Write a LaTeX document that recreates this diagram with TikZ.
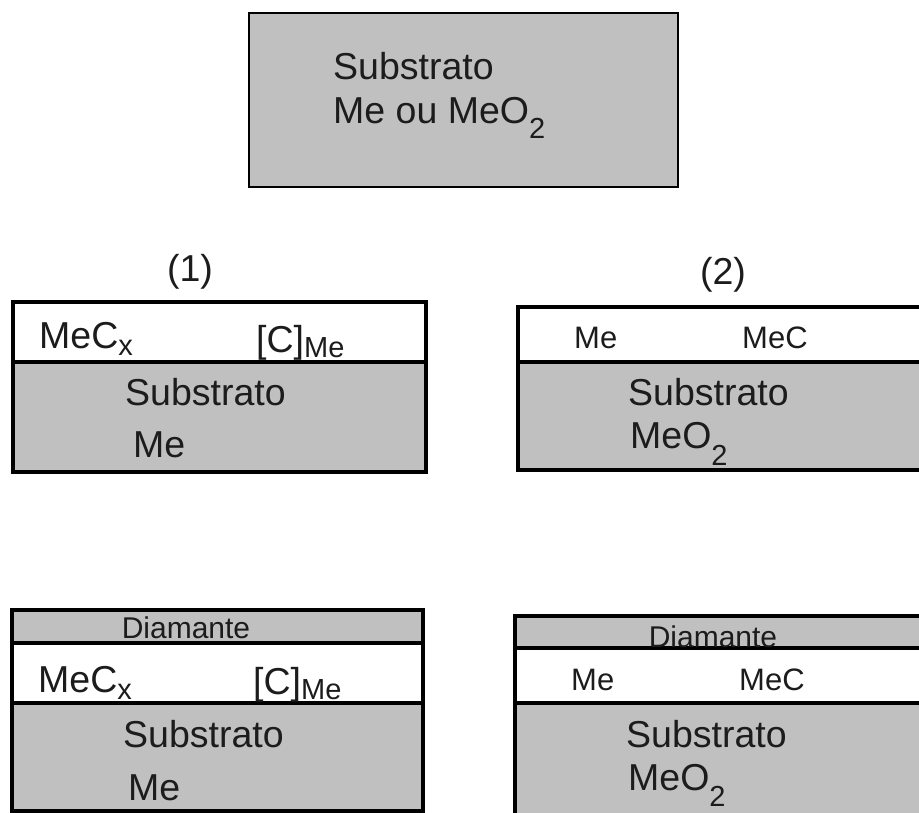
\documentclass[tikz,border=0pt]{standalone}
\usepackage{fontspec}
\setmainfont{Liberation Sans}
\definecolor{layergray}{RGB}{192,192,192}
\definecolor{inkcol}{RGB}{28,28,28}
\newcommand{\bigtxt}{\fontsize{37.5}{40}\selectfont}
\newcommand{\midtxt}{\fontsize{31}{34}\selectfont}
\newcommand{\smalltxt}{\fontsize{29}{31}\selectfont}
\newcommand{\diamtxt}{\fontsize{30}{32}\selectfont}
\newcommand{\lowsub}[2]{\raisebox{-#1pt}{\smalltxt #2}}
\begin{document}
\begin{tikzpicture}[x=1pt,y=-1pt,
  lbl/.style={inner sep=0pt,anchor=base west,text=inkcol,font=\bigtxt},
  lblmid/.style={inner sep=0pt,anchor=base west,text=inkcol,font=\midtxt},
  diam/.style={inner sep=0pt,anchor=base,text=inkcol,font=\diamtxt},
  border/.style={draw=black,line width=3.7pt},
  layer/.style={fill=layergray}]
\useasboundingbox (0,0) rectangle (919,812);
\clip (0,0) rectangle (919,812);

% initial substrate
\draw[layer,draw=black,line width=2.8pt] (249,13) rectangle (678,187);
\node[lbl] (s0a) at (333,79) {Substrato};
\node[lbl] (s0b) at (333,123) {Me ou MeO\lowsub{15}{2}};

% route labels
\node[inner sep=0pt,anchor=base,text=inkcol,font=\bigtxt] (r1) at (190,281) {(1)};
\node[inner sep=0pt,anchor=base,text=inkcol,font=\bigtxt] (r2) at (723,284) {(2)};

% route (1): carbide layer on metal substrate
\fill[white] (13,302) rectangle (426,362);
\fill[layer] (13,362) rectangle (426,472);
\draw[border] (13,302) rectangle (426,472);
\draw[border] (13,362) -- (426,362);
\node[lbl] (a1) at (39,348) {MeC\lowsub{7}{x}};
\node[lbl] (a2) at (256,352) {[C]\lowsub{5}{Me}};
\node[lbl] (a3) at (125,405) {Substrato};
\node[lbl] (a4) at (133,457) {Me};

% route (2): carbide layer on oxide substrate
\fill[white] (518,307) rectangle (925,362);
\fill[layer] (518,362) rectangle (925,470);
\draw[border] (518,307) rectangle (925,470);
\draw[border] (518,362) -- (925,362);
\node[lblmid] (b1) at (574,348) {Me};
\node[lblmid] (b2) at (742,348) {MeC};
\node[lbl] (b3) at (628,405) {Substrato};
\node[lbl] (b4) at (630,448) {MeO\lowsub{17}{2}};

% route (1) after diamond growth
\fill[layer] (12,610) rectangle (423,643);
\fill[white] (12,643) rectangle (423,703);
\fill[layer] (12,703) rectangle (423,811);
\draw[border] (12,610) rectangle (423,811);
\draw[border] (12,643) -- (423,643);
\draw[border] (12,703) -- (423,703);
\node[diam] (c0) at (186,638) {Diamante};
\node[lbl] (c1) at (38,692) {MeC\lowsub{7}{x}};
\node[lbl] (c2) at (253,694) {[C]\lowsub{5}{Me}};
\node[lbl] (c3) at (123,747) {Substrato};
\node[lbl] (c4) at (128,800) {Me};

% route (2) after diamond growth
\fill[layer] (515,616) rectangle (925,648);
\fill[white] (515,648) rectangle (925,703);
\fill[layer] (515,703) rectangle (925,830);
\draw[border] (515,616) rectangle (925,830);
\draw[border] (515,648) -- (925,648);
\draw[border] (515,703) -- (925,703);
\node[diam] (d0) at (713,647) {Diamante};
\node[lblmid] (d1) at (571,690) {Me};
\node[lblmid] (d2) at (739,690) {MeC};
\node[lbl] (d3) at (626,747) {Substrato};
\node[lbl] (d4) at (628,790) {MeO\lowsub{16}{2}};
\end{tikzpicture}
\end{document}
